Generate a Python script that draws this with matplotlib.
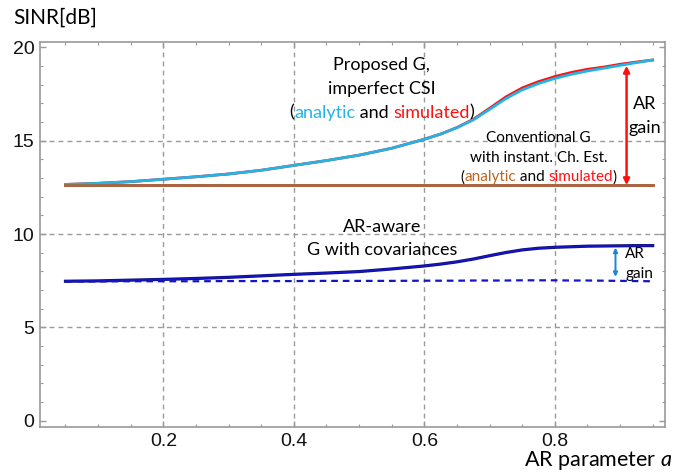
import numpy as np
import matplotlib
matplotlib.use("Agg")
import matplotlib.pyplot as plt
from matplotlib.offsetbox import TextArea, HPacker, AnnotationBbox

plt.rcParams['mathtext.fontset'] = 'custom'
plt.rcParams['mathtext.rm'] = 'Lato'
plt.rcParams['mathtext.it'] = 'Lato:italic'

# AR parameter values (x axis)
ar_param = [0.05, 0.10, 0.15, 0.20, 0.25, 0.30, 0.35, 0.40, 0.45, 0.50, 0.55, 0.60, 0.625,
            0.65, 0.675, 0.70, 0.725, 0.75, 0.775, 0.80, 0.825, 0.85, 0.875, 0.90, 0.925, 0.95]

# proposed G, imperfect CSI
proposed_analytic = [12.66, 12.72, 12.81, 12.94, 13.07, 13.22, 13.42, 13.68, 13.94, 14.23, 14.60,
                     15.08, 15.36, 15.70, 16.12, 16.68, 17.26, 17.73, 18.07, 18.34, 18.56,
                     18.74, 18.89, 19.04, 19.19, 19.33]
proposed_sim = [12.66, 12.72, 12.81, 12.94, 13.07, 13.22, 13.42, 13.68, 13.94, 14.23, 14.60,
                15.08, 15.36, 15.71, 16.15, 16.74, 17.35, 17.83, 18.17, 18.44, 18.66,
                18.83, 18.95, 19.10, 19.22, 19.33]

# conventional G with instantaneous channel estimation
conventional_analytic = [12.62] * len(ar_param)
conventional_sim = [12.64] * len(ar_param)

# AR-aware G with covariances, and its baseline without AR (dashed)
ar_aware = [7.47, 7.49, 7.53, 7.57, 7.62, 7.68, 7.76, 7.84, 7.91, 7.99, 8.13, 8.29, 8.39,
            8.51, 8.66, 8.84, 9.01, 9.15, 9.24, 9.29, 9.32, 9.35, 9.36, 9.37, 9.38, 9.38]
ar_baseline = [7.46, 7.46, 7.47, 7.47, 7.47, 7.48, 7.48, 7.48, 7.49, 7.49, 7.49, 7.50, 7.50,
               7.50, 7.51, 7.51, 7.51, 7.52, 7.52, 7.52, 7.51, 7.51, 7.50, 7.49, 7.48, 7.47]

x_ticks = [0.2, 0.4, 0.6, 0.8]
y_ticks = [0, 5, 10, 15, 20]

CYAN = '#22b4e6'
RED = '#ff1010'
BROWN = '#c0651c'
BLUE = '#1414c8'
ARROW_BLUE = '#1f84d0'
GRAY = '#9a9a9a'
TXT = 'Lato'


def colored_line(ax, x, y, parts, size):
    boxes = [TextArea(s, textprops=dict(color=c, fontsize=size, family=TXT)) for s, c in parts]
    pack = HPacker(children=boxes, pad=0, sep=0, align='baseline')
    ab = AnnotationBbox(pack, (x, y), xycoords='data', frameon=False,
                        box_alignment=(0.5, 0.5), pad=0, annotation_clip=False)
    ax.add_artist(ab)


fig = plt.figure(figsize=(6.75, 4.76), dpi=100)
ax = fig.add_axes([0.0593, 0.103, 0.926, 0.809])

ax.plot(ar_param, proposed_sim, color=RED, lw=2.0, zorder=3)
ax.plot(ar_param, proposed_analytic, color=CYAN, lw=2.0, zorder=4)
ax.plot(ar_param, conventional_sim, color=RED, lw=1.8, zorder=3)
ax.plot(ar_param, conventional_analytic, color='#a06a42', lw=2.0, zorder=4)
ax.plot(ar_param, ar_aware, color='#10107a', lw=2.3, zorder=3)
ax.plot(ar_param, ar_aware, color=BLUE, lw=1.2, zorder=4)
ax.plot(ar_param, ar_baseline, color=BLUE, lw=1.6, dashes=(3, 2.2), zorder=4)

ax.set_xlim(0.011, 0.969)
ax.set_ylim(-0.34, 20.3)

# grid lines (Mathematica style)
for gx in x_ticks:
    ax.axvline(gx, color=GRAY, lw=1, dashes=(3.5, 3), zorder=1)
for gy in [5, 10, 15]:
    ax.axhline(gy, color=GRAY, lw=1, dashes=(3.5, 3), zorder=1)

ax.set_xticks(x_ticks)
ax.set_xticklabels(['0.2', '0.4', '0.6', '0.8'])
ax.set_yticks(y_ticks)
ax.set_yticklabels(['0', '5', '10', '15', '20'])
ax.set_xticks(np.arange(0.05, 0.96, 0.05), minor=True)
ax.set_yticks(np.arange(0, 21, 1), minor=True)
ax.tick_params(which='both', direction='in', top=True, right=True, color=GRAY)
ax.tick_params(which='major', length=4, width=1, pad=4, labelsize=14, labelcolor='#111111')
ax.tick_params(which='minor', length=2.2, width=0.8)
for lab in ax.get_xticklabels() + ax.get_yticklabels():
    lab.set_family('Liberation Sans')
for sp in ax.spines.values():
    sp.set_color(GRAY)
    sp.set_linewidth(1.2)

# annotations
ax.text(0.535, 19.05, 'Proposed G,', ha='center', va='center', fontsize=13, family=TXT)
ax.text(0.535, 17.8, 'imperfect CSI', ha='center', va='center', fontsize=13, family=TXT)
colored_line(ax, 0.535, 16.5, [('(', 'black'), ('analytic', CYAN), (' and ', 'black'),
                               ('simulated', RED), (')', 'black')], 13)

ax.text(0.775, 15.15, 'Conventional G', ha='center', va='center', fontsize=11, family=TXT)
ax.text(0.775, 14.1, 'with instant. Ch. Est.', ha='center', va='center', fontsize=11, family=TXT)
colored_line(ax, 0.775, 13.05, [('(', 'black'), ('analytic', BROWN), (' and ', 'black'),
                                ('simulated', RED), (')', 'black')], 11)

ax.text(0.938, 16.97, 'AR', ha='center', va='center', fontsize=13, family=TXT)
ax.text(0.938, 15.7, 'gain', ha='center', va='center', fontsize=13, family=TXT)

ax.text(0.536, 10.39, 'AR-aware', ha='center', va='center', fontsize=13, family=TXT)
ax.text(0.536, 9.14, 'G with covariances', ha='center', va='center', fontsize=13, family=TXT)

ax.text(0.908, 8.95, 'AR', ha='left', va='center', fontsize=11, family=TXT)
ax.text(0.908, 7.88, 'gain', ha='left', va='center', fontsize=11, family=TXT)

ax.annotate('', xy=(0.91, 19.02), xytext=(0.91, 12.62),
            arrowprops=dict(arrowstyle='<|-|>', color=RED, lw=1.8, mutation_scale=9,
                            shrinkA=0, shrinkB=0), zorder=5)
ax.annotate('', xy=(0.893, 9.27), xytext=(0.893, 7.71),
            arrowprops=dict(arrowstyle='<|-|>', color=ARROW_BLUE, lw=1.4, mutation_scale=6,
                            shrinkA=0, shrinkB=0), zorder=5)

fig.text(13 / 675, 1 - 18 / 476, 'SINR[dB]', ha='left', va='center', fontsize=15, family=TXT)
fig.text(672 / 675, 1 - 466 / 476, 'AR parameter $a$', ha='right', va='baseline',
         fontsize=15.5, family=TXT)

fig.savefig('out.png', dpi=100)
